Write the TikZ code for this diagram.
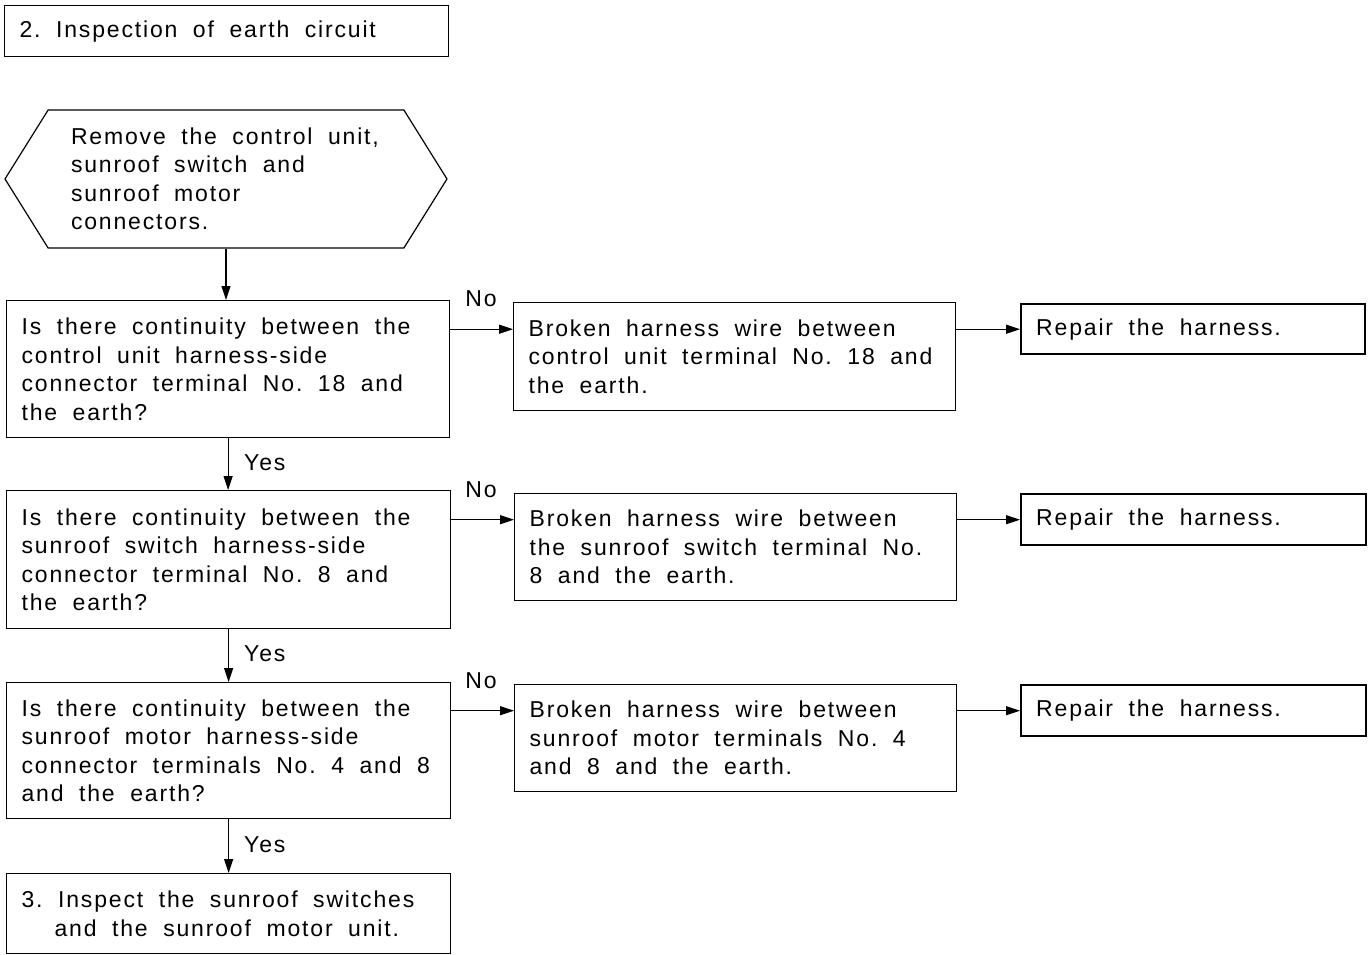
\documentclass[tikz,border=0pt]{standalone}
\usepackage{fontspec}
\setmainfont{Liberation Sans}[LetterSpace=8]
\usepackage{tikz}
\usetikzlibrary{arrows.meta,shapes.symbols}
\frenchspacing
\newcommand\flowfont{\fontsize{23}{28.5}\selectfont}
\newcommand\widespace{\spaceskip 15.5pt plus 2pt minus 1pt\xspaceskip 15.5pt\relax}

\begin{document}
\begin{tikzpicture}[x=1pt,y=-1pt,
	every node/.style={font=\flowfont, execute at begin node=\widespace},
	box/.style={draw, line width=1.2pt, anchor=north west, inner xsep=15pt, inner ysep=0pt, align=left},
	fix/.style={box, line width=2.4pt},
	lbl/.style={inner sep=0pt},
	flow/.style={line width=1.1pt, -{Triangle[length=14pt,width=9pt]}}]

	\useasboundingbox (0,0) rectangle (1371,954);

	% title
	\node (title) [box, text width=414pt, minimum height=51pt] at (4,5) {2. Inspection of earth circuit};

	% start
	\node (hex) [draw, line width=1.2pt, signal, signal to=west and east, signal pointer angle=116,
		minimum width=442pt, minimum height=138pt, inner sep=0pt, text width=310pt, align=left]
		at (226,179) {Remove the control unit,\\sunroof switch and\\sunroof motor\\connectors.};

	% checks
	\node (q1) [box, text width=413pt, minimum height=137pt] at (6,300)
		{Is there continuity between the\\control unit harness-side\\connector terminal No. 18 and\\the earth?};
	\node (q2) [box, text width=414pt, minimum height=138pt] at (6,490)
		{Is there continuity between the\\sunroof switch harness-side\\connector terminal No. 8 and\\the earth?};
	\node (q3) [box, text width=414pt, minimum height=136pt] at (6,682)
		{Is there continuity between the\\sunroof motor harness-side\\connector terminals No. 4 and 8\\and the earth?};
	\node (next) [box, text width=414pt, minimum height=80pt] at (6,873)
		{3. Inspect the sunroof switches\\\hspace*{33pt}and the sunroof motor unit.};

	% faults
	\node (b1) [box, text width=412pt, minimum height=108pt] at (513,302)
		{Broken harness wire between\\control unit terminal No. 18 and\\the earth.};
	\node (b2) [box, text width=412pt, minimum height=107pt] at (514,493)
		{Broken harness wire between\\the sunroof switch terminal No.\\8 and the earth.};
	\node (b3) [box, text width=412pt, minimum height=107pt] at (514,684)
		{Broken harness wire between\\sunroof motor terminals No. 4\\and 8 and the earth.};

	% repairs
	\node (r1) [fix, text width=314pt, minimum height=50pt] at (1020,303) {Repair the harness.};
	\node (r2) [fix, text width=315pt, minimum height=51pt] at (1020,493) {Repair the harness.};
	\node (r3) [fix, text width=315pt, minimum height=51pt] at (1020,684) {Repair the harness.};

	% yes / no
	\draw[flow] (hex.south) -- (hex.south |- q1.north);
	\draw[flow] (q1.south) -- (q1.south |- q2.north);
	\draw[flow] (q2.south) -- (q2.south |- q3.north);
	\draw[flow] (q3.south) -- (q3.south |- next.north);
	\node (y1) [lbl, anchor=west] at (244,463) {Yes};
	\node (y2) [lbl, anchor=west] at (244,654) {Yes};
	\node (y3) [lbl, anchor=west] at (244,845) {Yes};

	\draw[flow] (q1.east |- r1.west) -- (b1.west |- r1.west);
	\draw[flow] (q2.east |- r2.west) -- (b2.west |- r2.west);
	\draw[flow] (q3.east |- r3.west) -- (b3.west |- r3.west);
	\node (n1) [lbl] at (481,299) {No};
	\node (n2) [lbl] at (481,490) {No};
	\node (n3) [lbl] at (481,681) {No};

	\draw[flow] (b1.east |- r1.west) -- (r1.west);
	\draw[flow] (b2.east |- r2.west) -- (r2.west);
	\draw[flow] (b3.east |- r3.west) -- (r3.west);
\end{tikzpicture}
\end{document}
